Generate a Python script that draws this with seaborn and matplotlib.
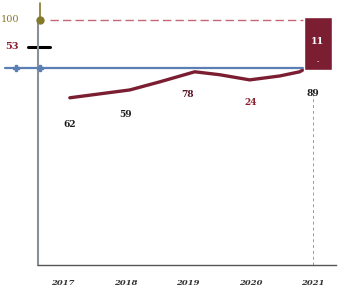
import matplotlib
matplotlib.use("Agg")
import matplotlib.pyplot as plt
import seaborn as sns
import pandas as pd

sns.set_theme(style="white")
plt.rcParams["font.family"] = ["DejaVu Serif", "DejaVu Sans"]

# data
years = [2017, 2018, 2019, 2020, 2021]
curve_x = [2017.11, 2017.59, 2018.07, 2018.55, 2019.11, 2019.51, 2019.99, 2020.47, 2020.79, 2020.9]
curve_y = [68.2, 69.8, 71.4, 74.7, 78.8, 77.6, 75.5, 77.1, 78.8, 80.5]
point_labels = ["62", "59", "78", "24", "89"]
label_y = [57.5, 61.2, 69.4, 66.1, 69.8]
label_colors = ["#1a1a1a", "#1a1a1a", "#5a1020", "#8b1e2e", "#1a1a1a"]
bar_year = 2021.08
bar_bottom = 79.6
bar_top = 101
bar_label = "11"
baseline = 80.4
top_ref = 100
mid_ref = 89
mid_ref_label = "53"

RED = "#7b1e32"
BLUE = "#5a7fb5"
OLIVE = "#857a2c"

fig = plt.figure(figsize=(3.39, 2.89), dpi=100)
ax = fig.add_axes([0.112, 0.083, 0.879, 0.907])

curve = pd.DataFrame({"year": curve_x, "value": curve_y})
sns.lineplot(data=curve, x="year", y="value", color=RED, lw=2.4, ax=ax)

ax.bar(bar_year, bar_top - bar_bottom, bottom=bar_bottom, width=0.45,
       color=RED, zorder=3)
ax.text(bar_year, (bar_top + bar_bottom) / 2 + 1, bar_label, color="white",
        ha="center", va="center", fontsize=7, fontweight="bold", zorder=4)
ax.text(bar_year, bar_bottom + 3, "-", color="white", ha="center",
        va="center", fontsize=5, zorder=4)

# reference lines
ax.plot([2016.07, 2020.85], [baseline, baseline], color=BLUE, lw=1.6,
        clip_on=False, zorder=2)
ax.plot([2016.25, 2016.63], [baseline, baseline], color=BLUE, lw=0,
        marker="P", ms=4, clip_on=False, zorder=3)
ax.plot([2016.8, 2020.85], [top_ref, top_ref], color="#a8283a", lw=1,
        ls=(0, (6, 3)), alpha=0.7)
ax.plot([2016.63, 2016.63], [top_ref, 106.9], color=OLIVE, lw=1.2, clip_on=False)
ax.plot([2016.63], [top_ref], marker="o", color=OLIVE, ms=5, clip_on=False, zorder=4)
ax.plot([2016.44, 2016.79], [mid_ref, mid_ref], color="black", lw=2.2, clip_on=False)
ax.text(2016.3, top_ref, "100", color=OLIVE, ha="right", va="center", fontsize=7)
ax.text(2016.3, mid_ref, mid_ref_label, color="#8b1e2e", ha="right", va="center",
        fontsize=7, fontweight="bold")
ax.plot([2021, 2021], [0, 70], color="#999999", lw=0.7, ls=(0, (3, 3)))

for x, y, t, c in zip(years, label_y, point_labels, label_colors):
    ax.text(x + (0.11 if x == 2017 else 0), y, t, color=c, ha="center",
            va="center", fontsize=6.5, fontweight="bold")

ax.set_xlim(2016.6, 2021.37)
ax.set_ylim(0, 106.9)
ax.set_xticks(years)
ax.set_xticklabels([str(y) for y in years], fontsize=6, fontstyle="italic",
                   fontweight="bold", color="#333333")
ax.tick_params(axis="x", pad=10, length=0)
ax.set_yticks([])
ax.set_xlabel("")
ax.set_ylabel("")
for s in ["top", "right"]:
    ax.spines[s].set_visible(False)
ax.spines["left"].set_bounds(0, top_ref)
ax.spines["left"].set_color("#8a8f99")
ax.spines["left"].set_linewidth(1.5)
ax.spines["bottom"].set_color("#555555")
ax.spines["bottom"].set_linewidth(1)

fig.savefig("out.png", dpi=100)
